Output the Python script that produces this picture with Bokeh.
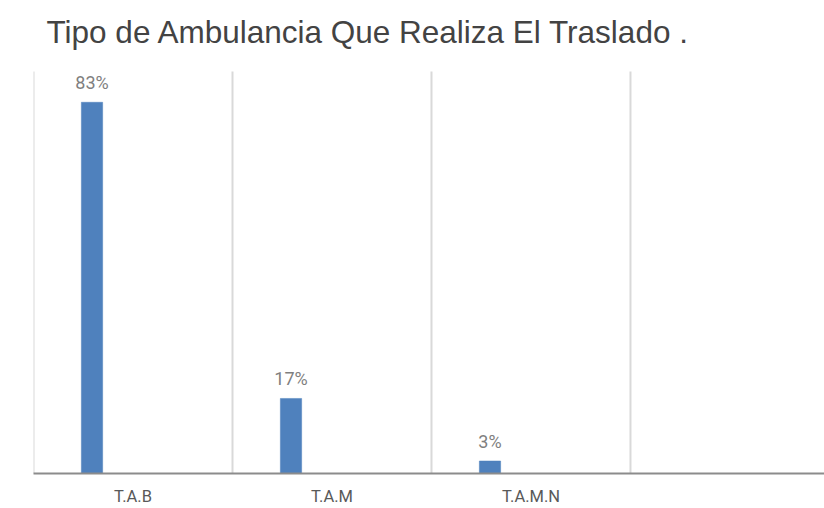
from bokeh.plotting import figure
from bokeh.models import ColumnDataSource, FixedTicker, LabelSet, Range1d
from bokeh.core.properties import value
from bokeh.embed import file_html
from bokeh.resources import INLINE

# ---- data ----
categories = ["T.A.B", "T.A.M", "T.A.M.N"]
values = [0.831, 0.168, 0.028]
value_labels = [f"{round(v * 100)}%" for v in values]
title_text = "Tipo de Ambulancia Que Realiza El Traslado ."

# ---- layout constants (styles) ----
n_slots = 4
bar_dodge = -0.206
bar_width = 0.107
Y_MAX = 0.9          # top of the plotting area (where separators end)
Y_END = 0.9424       # a bit of headroom above it for the title spacing
X_MAX = 3.975

centers = [i + 0.5 for i in range(len(categories))]
bar_x = [c + bar_dodge for c in centers]
boundaries = list(range(n_slots))

src = ColumnDataSource(dict(x=bar_x, top=values, label=value_labels))

p = figure(
    width=824, height=508,
    output_backend="svg", toolbar_location=None,
    x_range=Range1d(0, X_MAX), y_range=Range1d(0, Y_END),
    min_border_left=33, min_border_right=0, min_border_top=52, min_border_bottom=34,
    title=title_text,
)
p.outline_line_color = None
p.background_fill_color = "white"
p.border_fill_color = "white"

p.title.text_font = "Liberation Sans"
p.title.text_font_size = "31.5px"
p.title.text_font_style = "normal"
p.title.text_color = "#434343"
p.title.align = "left"
p.title.vertical_align = "bottom"
p.title.offset = 13
p.title.standoff = 6

# vertical separators between category slots (stop at the top of the plot area)
p.segment(x0=boundaries, y0=[0] * n_slots, x1=boundaries, y1=[Y_MAX] * n_slots,
          line_color="#d9d9d9", line_width=2)

p.vbar(x="x", top="top", width=bar_width, bottom=0, source=src,
       fill_color="#4F81BD", line_color="#4F81BD", line_width=0.5)

labels = LabelSet(x="x", y="top", text="label", source=src,
                  text_align="center", text_baseline="alphabetic", y_offset=13,
                  text_font=value("Roboto"), text_font_size=value("18px"),
                  text_color="#7f7f7f")
p.add_layout(labels)

# x axis: category labels at slot centres
p.xaxis.ticker = FixedTicker(ticks=centers)
p.xaxis.major_label_overrides = {c: lab for c, lab in zip(centers, categories)}
p.xaxis.major_tick_line_color = None
p.xaxis.minor_tick_line_color = None
p.xaxis.axis_line_color = "#8c8c8c"
p.xaxis.axis_line_width = 2
p.xaxis.major_label_text_font = "Roboto"
p.xaxis.major_label_text_font_size = "16.5px"
p.xaxis.major_label_text_color = "#595959"
p.xaxis.major_label_standoff = 7

p.yaxis.visible = False
p.xgrid.visible = False
p.ygrid.visible = False

open("out.html", "w").write(file_html(p, INLINE))
